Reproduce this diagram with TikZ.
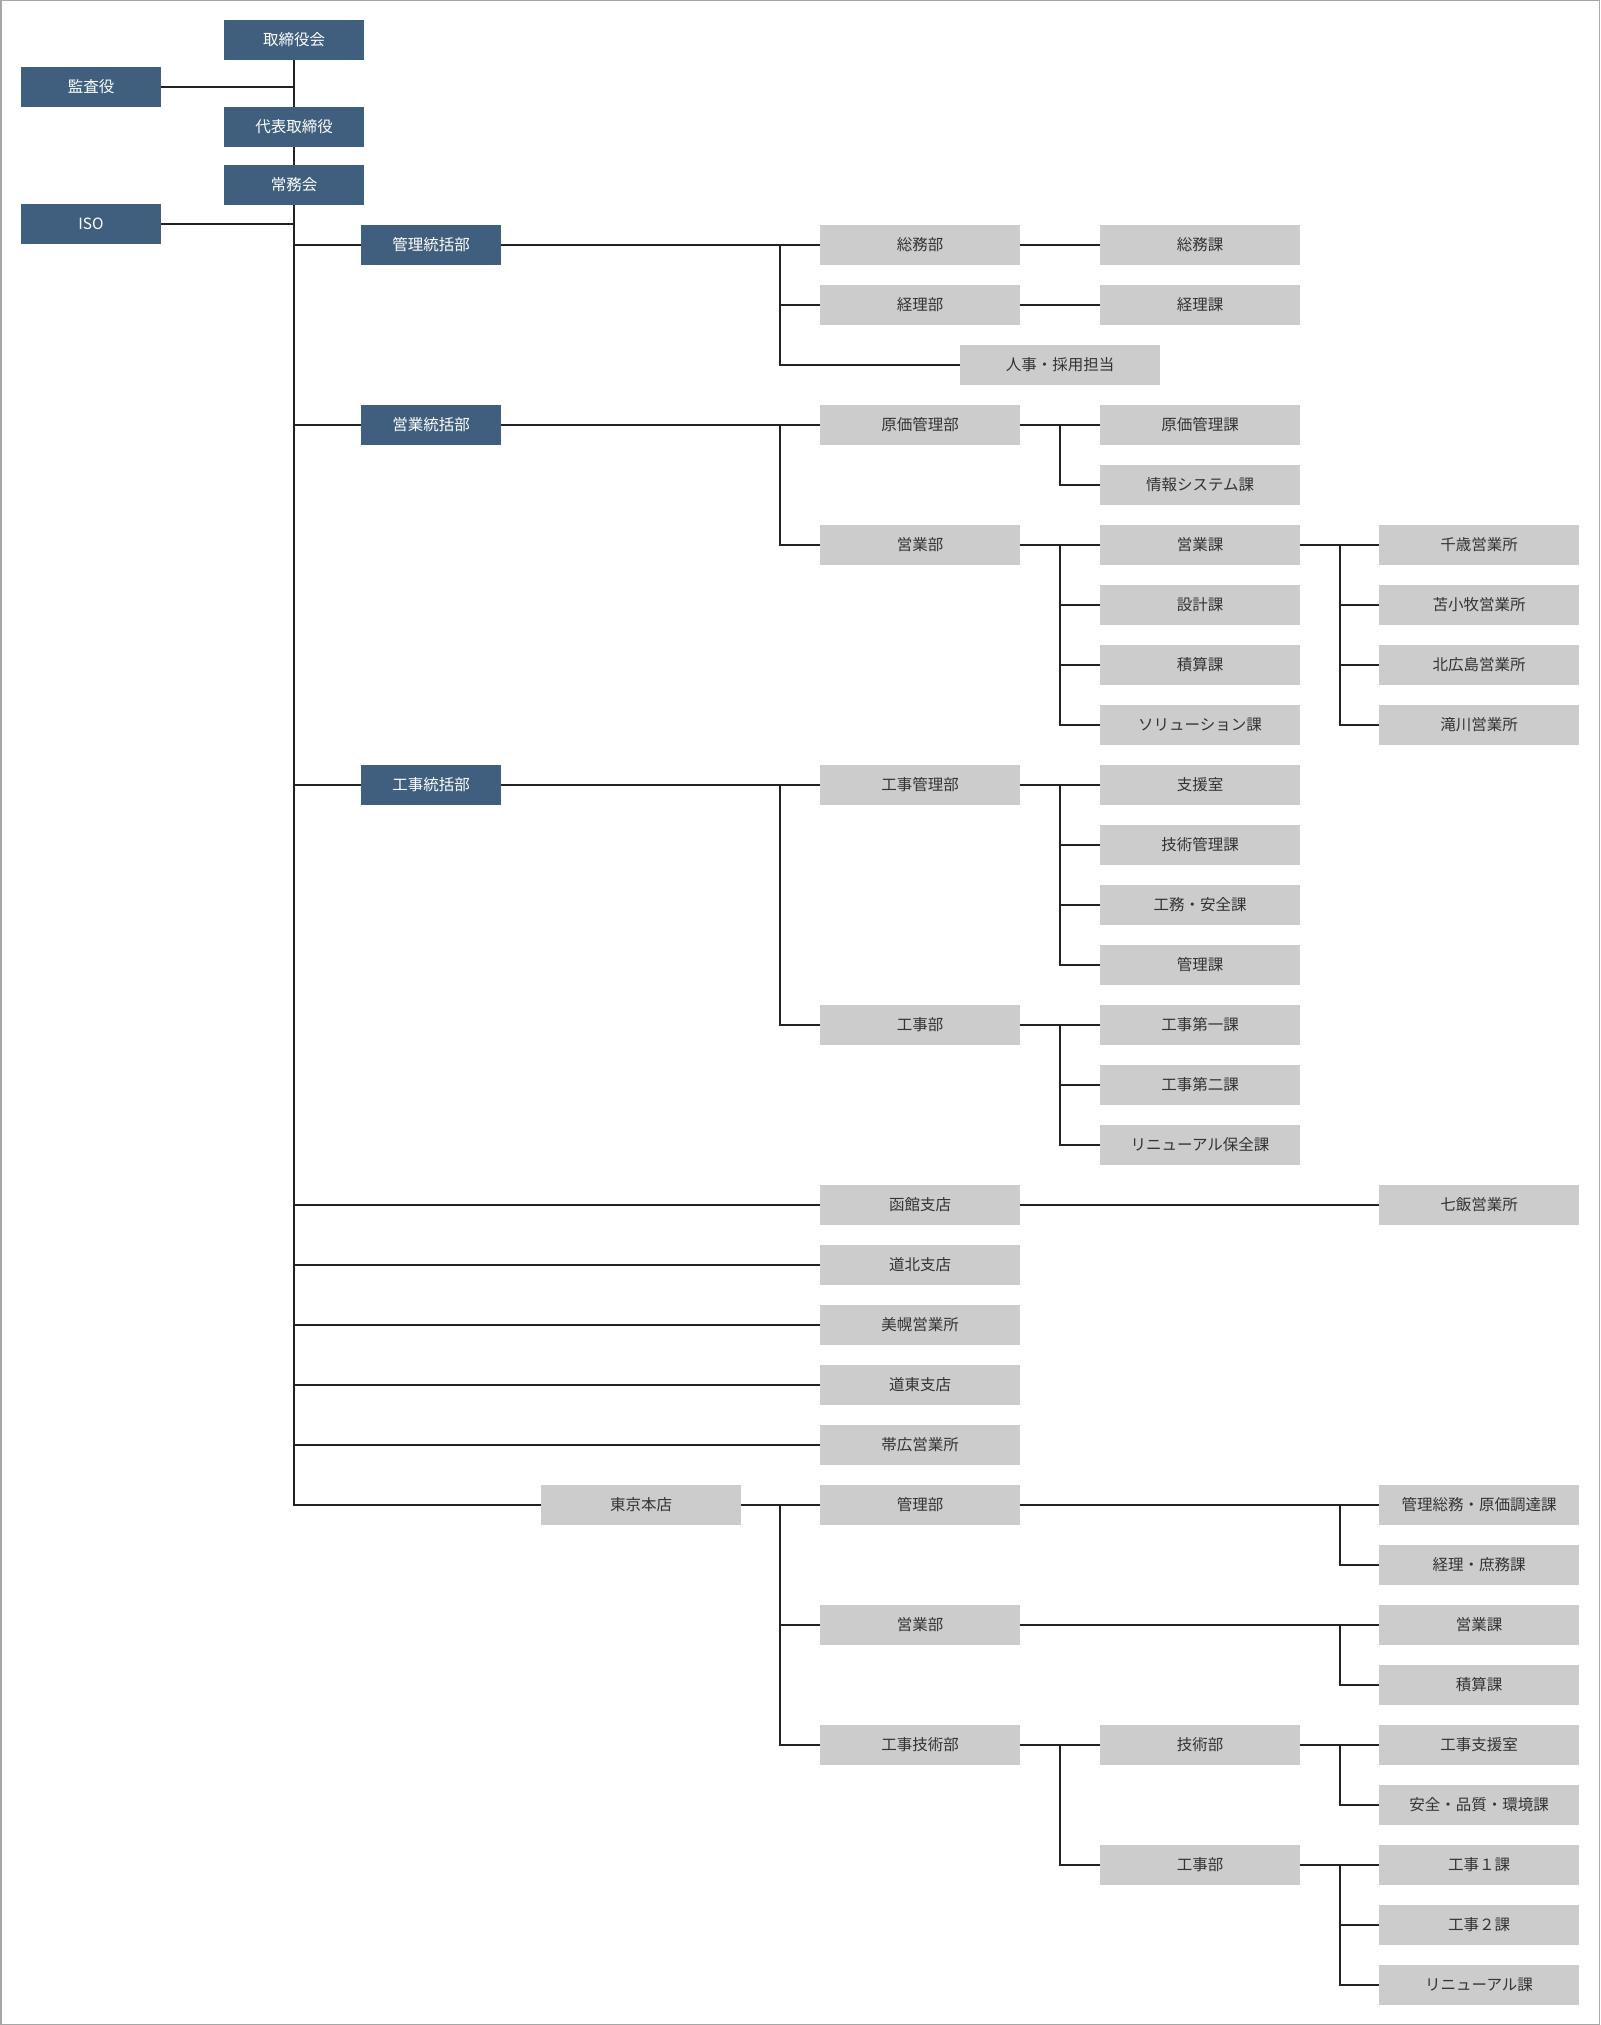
\documentclass[tikz,border=0pt]{standalone}
\usepackage{xcolor}
\usepackage{fontspec}
\setmainfont{Noto Sans CJK JP}
\usepackage{tikz}

\definecolor{boardblue}{RGB}{64,95,126}
\definecolor{unitgray}{RGB}{204,204,204}
\definecolor{linedark}{RGB}{34,34,34}

\begin{document}
\begin{tikzpicture}[x=1pt, y=-1pt, font=\fontsize{15.5}{18}\selectfont]
	\useasboundingbox (0, 0) rectangle (1600, 2025);
	\draw[gray!70, line width=1.5pt] (0.75, 0.75) rectangle (1599.25, 2024.25);

	\begin{scope}[
		exec/.style={fill=boardblue, text=white, minimum width=140pt, minimum height=40pt, inner sep=0pt},
		unit/.style={fill=unitgray, text=black!80, minimum width=200pt, minimum height=40pt, inner sep=0pt}]
		% board
		\node[exec] (torishimari) at (294, 40) {取締役会};
		\node[exec] (kansa) at (91, 87) {監査役};
		\node[exec] (daihyo) at (294, 127) {代表取締役};
		\node[exec] (jomu) at (294, 185) {常務会};
		\node[exec] (iso) at (91, 224) {ISO};
		\node[exec] (kanriT) at (431, 245) {管理統括部};
		\node[exec] (eigyoT) at (431, 425) {営業統括部};
		\node[exec] (kojiT) at (431, 785) {工事統括部};

		% 管理統括部
		\node[unit] (soumubu) at (920, 245) {総務部};
		\node[unit] (soumuka) at (1200, 245) {総務課};
		\node[unit] (keiribu) at (920, 305) {経理部};
		\node[unit] (keirika) at (1200, 305) {経理課};
		\node[unit] (jinji) at (1060, 365) {人事・採用担当};

		% 営業統括部
		\node[unit] (genkabu) at (920, 425) {原価管理部};
		\node[unit] (genkaka) at (1200, 425) {原価管理課};
		\node[unit] (joho) at (1200, 485) {情報システム課};
		\node[unit] (eigyobu) at (920, 545) {営業部};
		\node[unit] (eigyoka) at (1200, 545) {営業課};
		\node[unit] (sekkei) at (1200, 605) {設計課};
		\node[unit] (sekisan) at (1200, 665) {積算課};
		\node[unit] (solution) at (1200, 725) {ソリューション課};
		\node[unit] (chitose) at (1479, 545) {千歳営業所};
		\node[unit] (tomakomai) at (1479, 605) {苫小牧営業所};
		\node[unit] (kitahiro) at (1479, 665) {北広島営業所};
		\node[unit] (takikawa) at (1479, 725) {滝川営業所};

		% 工事統括部
		\node[unit] (kojikanri) at (920, 785) {工事管理部};
		\node[unit] (shien) at (1200, 785) {支援室};
		\node[unit] (gijutsukanri) at (1200, 845) {技術管理課};
		\node[unit] (koumu) at (1200, 905) {工務・安全課};
		\node[unit] (kanrika) at (1200, 965) {管理課};
		\node[unit] (kojibu) at (920, 1025) {工事部};
		\node[unit] (daiichi) at (1200, 1025) {工事第一課};
		\node[unit] (daini) at (1200, 1085) {工事第二課};
		\node[unit] (hozen) at (1200, 1145) {リニューアル保全課};

		% 支店・営業所
		\node[unit] (hakodate) at (920, 1205) {函館支店};
		\node[unit] (nanae) at (1479, 1205) {七飯営業所};
		\node[unit] (dohoku) at (920, 1265) {道北支店};
		\node[unit] (bihoro) at (920, 1325) {美幌営業所};
		\node[unit] (doto) at (920, 1385) {道東支店};
		\node[unit] (obihiro) at (920, 1445) {帯広営業所};

		% 東京本店
		\node[unit] (tokyo) at (641, 1505) {東京本店};
		\node[unit] (tkanri) at (920, 1505) {管理部};
		\node[unit] (tchotatsu) at (1479, 1505) {管理総務・原価調達課};
		\node[unit] (tshomu) at (1479, 1565) {経理・庶務課};
		\node[unit] (teigyo) at (920, 1625) {営業部};
		\node[unit] (teigyoka) at (1479, 1625) {営業課};
		\node[unit] (tsekisan) at (1479, 1685) {積算課};
		\node[unit] (tkoji) at (920, 1745) {工事技術部};
		\node[unit] (tgijutsu) at (1200, 1745) {技術部};
		\node[unit] (tshien) at (1479, 1745) {工事支援室};
		\node[unit] (tanzen) at (1479, 1805) {安全・品質・環境課};
		\node[unit] (tkojibu) at (1200, 1865) {工事部};
		\node[unit] (tkoji1) at (1479, 1865) {工事１課};
		\node[unit] (tkoji2) at (1479, 1925) {工事２課};
		\node[unit] (trenewal) at (1479, 1985) {リニューアル課};
	\end{scope}

	\coordinate (b1) at (780, 0);
	\coordinate (b2) at (1060, 0);
	\coordinate (b3) at (1340, 0);

	\begin{scope}[line width=1.8pt, draw=linedark]
		% trunk
		\draw (torishimari) -- (daihyo);
		\draw (daihyo) -- (jomu);
		\draw (jomu.south) |- (tokyo);
		\draw (kansa) -- (kansa -| jomu.south);
		\draw (iso) -- (iso -| jomu.south);
		\draw (kanriT -| jomu.south) -- (kanriT);
		\draw (eigyoT -| jomu.south) -- (eigyoT);
		\draw (kojiT -| jomu.south) -- (kojiT);
		\draw (hakodate -| jomu.south) -- (hakodate);
		\draw (dohoku -| jomu.south) -- (dohoku);
		\draw (bihoro -| jomu.south) -- (bihoro);
		\draw (doto -| jomu.south) -- (doto);
		\draw (obihiro -| jomu.south) -- (obihiro);

		\draw (kanriT) -- (soumubu);
		\draw (b1 |- soumubu) |- (keiribu);
		\draw (b1 |- soumubu) |- (jinji);
		\draw (soumubu) -- (soumuka);
		\draw (keiribu) -- (keirika);

		\draw (eigyoT) -- (genkabu);
		\draw (b1 |- genkabu) |- (eigyobu);
		\draw (genkabu) -- (genkaka);
		\draw (b2 |- genkaka) |- (joho);
		\draw (eigyobu) -- (eigyoka);
		\draw (b2 |- eigyoka) |- (sekkei);
		\draw (b2 |- eigyoka) |- (sekisan);
		\draw (b2 |- eigyoka) |- (solution);
		\draw (eigyoka) -- (chitose);
		\draw (b3 |- chitose) |- (tomakomai);
		\draw (b3 |- chitose) |- (kitahiro);
		\draw (b3 |- chitose) |- (takikawa);

		\draw (kojiT) -- (kojikanri);
		\draw (b1 |- kojikanri) |- (kojibu);
		\draw (kojikanri) -- (shien);
		\draw (b2 |- shien) |- (gijutsukanri);
		\draw (b2 |- shien) |- (koumu);
		\draw (b2 |- shien) |- (kanrika);
		\draw (kojibu) -- (daiichi);
		\draw (b2 |- daiichi) |- (daini);
		\draw (b2 |- daiichi) |- (hozen);

		\draw (hakodate) -- (nanae);

		\draw (tokyo) -- (tkanri);
		\draw (b1 |- tkanri) |- (teigyo);
		\draw (b1 |- tkanri) |- (tkoji);
		\draw (tkanri) -- (tchotatsu);
		\draw (b3 |- tchotatsu) |- (tshomu);
		\draw (teigyo) -- (teigyoka);
		\draw (b3 |- teigyoka) |- (tsekisan);
		\draw (tkoji) -- (tgijutsu);
		\draw (b2 |- tgijutsu) |- (tkojibu);
		\draw (tgijutsu) -- (tshien);
		\draw (b3 |- tshien) |- (tanzen);
		\draw (tkojibu) -- (tkoji1);
		\draw (b3 |- tkoji1) |- (tkoji2);
		\draw (b3 |- tkoji1) |- (trenewal);
	\end{scope}
\end{tikzpicture}
\end{document}
